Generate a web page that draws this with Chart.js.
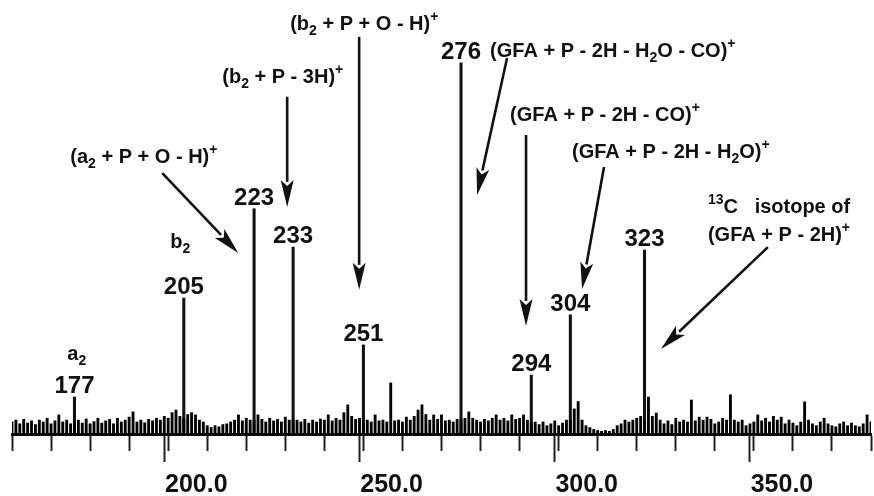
<!DOCTYPE html>
<html lang="en">
<head>
<meta charset="UTF-8">
<meta name="viewport" content="width=device-width, initial-scale=1.0">
<title>Spectrum</title>
<script src="https://cdn.jsdelivr.net/npm/chart.js"></script>
<style>
  html, body { margin: 0; padding: 0; background: #fff; }
  #wrap { width: 874px; height: 496px; }
</style>
</head>
<body>
<div id="wrap"><canvas id="chart"></canvas></div>
<script>
// labelled peaks: m/z and relative intensity (276 = 100)
const peakMz = [177, 205, 223, 233, 251, 276, 294, 304, 323];
const peakInt = [10.2, 36.8, 60.8, 50.5, 24.2, 100, 16.1, 32.3, 49.7];

// background trace, one value per m/z from noiseStart on
const noiseStart = 161;
const noiseInt = [
  3.5, 4.0, 3.0, 4.2, 3.2, 3.8, 2.8, 4.0, 3.5, 4.5,
  3.0, 3.8, 5.4, 3.5, 4.0, 3.0, 3.5, 4.0, 3.2, 4.3,
  3.0, 3.6, 4.5, 3.2, 3.8, 4.2, 3.0, 4.5, 3.5, 4.0,
  4.8, 6.2, 3.5, 4.0, 3.3, 4.2, 3.8, 4.5, 4.0, 5.0,
  4.5, 6.0, 6.7, 5.0, 4.5, 5.5, 6.0, 5.4, 4.0, 3.5,
  2.5, 2.0, 2.5, 2.2, 2.8, 3.0, 3.5, 4.0, 5.4, 3.8,
  4.5, 4.0, 4.0, 5.4, 4.2, 3.5, 4.5, 3.8, 4.2, 3.5,
  4.8, 4.0, 4.0, 4.0, 3.5, 4.2, 3.2, 4.0, 3.5, 4.3,
  4.0, 5.4, 3.8, 4.5, 4.0, 6.0, 8.1, 5.0, 4.2, 4.5,
  4.0, 4.0, 3.5, 5.4, 3.8, 4.0, 3.5, 14.0, 3.8, 4.0,
  3.5, 4.8, 4.0, 5.0, 6.7, 8.1, 5.5, 4.0, 5.4, 4.2,
  5.4, 3.8, 4.0, 3.5, 4.2, 4.0, 4.5, 6.2, 4.5, 4.0,
  3.5, 4.2, 3.8, 4.5, 5.4, 4.0, 4.5, 3.8, 5.4, 4.2,
  4.5, 5.4, 4.0, 3.5, 3.5, 2.8, 3.5, 2.5, 3.0, 3.8,
  2.5, 3.2, 4.0, 4.0, 7.0, 9.0, 4.0, 2.5, 2.0, 1.5,
  1.2, 1.0, 1.2, 1.0, 1.5, 2.5, 3.0, 4.0, 3.5, 4.0,
  4.5, 5.0, 4.0, 10.2, 5.0, 5.9, 4.0, 3.0, 3.8, 2.8,
  4.5, 3.5, 4.0, 3.5, 9.4, 3.8, 4.8, 4.0, 4.8, 4.2,
  3.0, 3.5, 4.5, 4.0, 10.8, 4.0, 3.5, 4.0, 2.5, 3.0,
  3.5, 5.4, 3.8, 4.5, 3.5, 5.0, 4.0, 4.8, 3.0, 4.0,
  3.2, 2.5, 3.5, 8.9, 4.0, 3.0, 2.5, 3.5, 4.5, 3.0,
  2.5, 2.2, 3.0, 3.5, 2.5, 3.2, 2.5, 2.2, 3.0, 5.4,
  3.5
];

// labelled axis ticks
const axisTicks = [200, 250, 300, 350];

// notes: text anchored at left/baseline, in m/z and intensity units
// _x = subscript, ^x = superscript
const notes = [
  { mz: 232.25, at: 108.9, text: '(b_2 + P + O - H)^+' },
  { mz: 214.85, at: 94.6, text: '(b_2 + P - 3H)^+' },
  { mz: 175.94, at: 73.1, text: '(a_2 + P + O - H)^+' },
  { mz: 283.44, at: 101.6, text: '(GFA + P - 2H - H_2O - CO)^+' },
  { mz: 288.56, at: 84.4, text: '(GFA + P - 2H - CO)^+' },
  { mz: 304.43, at: 74.5, text: '(GFA + P - 2H - H_2O)^+' },
  { mz: 339.24, at: 59.7, text: '^{13}C   isotope of' },
  { mz: 339.24, at: 52.2, text: '(GFA + P - 2H)^+' },
  { mz: 201.54, at: 50.3, text: 'b_2' },
  { mz: 175.17, at: 20.2, text: 'a_2' }
];

// arrows: from [mz, intensity] to [mz, intensity]
const arrows = [
  [199.49, 70.4, 218.94, 48.9],
  [231.48, 90.9, 231.48, 61.3],
  [249.91, 107.0, 249.91, 39.0],
  [287.79, 101.3, 280.11, 64.5],
  [292.65, 80.6, 292.65, 29.3],
  [312.62, 72.0, 306.99, 39.2],
  [354.59, 50.5, 327.21, 23.1]
];

const ink = '#111';
const family = '"Liberation Sans", Arial, sans-serif';

function richText(ctx, str, px, py, size) {
  const parts = [];
  let buf = '', i = 0;
  while (i < str.length) {
    const c = str[i];
    if (c === '_' || c === '^') {
      if (buf) { parts.push({ t: buf, k: 0 }); buf = ''; }
      let t;
      if (str[i + 1] === '{') {
        const j = str.indexOf('}', i);
        t = str.slice(i + 2, j);
        i = j + 1;
      } else {
        t = str[i + 1];
        i += 2;
      }
      parts.push({ t: t, k: c === '_' ? 1 : -1 });
    } else {
      buf += c;
      i++;
    }
  }
  if (buf) parts.push({ t: buf, k: 0 });

  let cx = px;
  parts.forEach(p => {
    const s = p.k ? Math.round(size * 0.7) : size;
    ctx.font = 'bold ' + s + 'px ' + family;
    const dy = p.k === 1 ? size * 0.27 : p.k === -1 ? -size * 0.45 : 0;
    ctx.fillText(p.t, cx, py + dy);
    cx += ctx.measureText(p.t).width;
  });
}

function arrow(ctx, x0, y0, x1, y1) {
  const ang = Math.atan2(y1 - y0, x1 - x0);
  const len = 27, half = 6.5;
  const bx = x1 - len * Math.cos(ang), by = y1 - len * Math.sin(ang);
  ctx.beginPath();
  ctx.moveTo(x0, y0);
  ctx.lineTo(bx + 2 * Math.cos(ang), by + 2 * Math.sin(ang));
  ctx.stroke();
  ctx.beginPath();
  ctx.moveTo(x1, y1);
  ctx.lineTo(bx + half * Math.sin(ang), by - half * Math.cos(ang));
  ctx.lineTo(bx + 6 * Math.cos(ang), by + 6 * Math.sin(ang));
  ctx.lineTo(bx - half * Math.sin(ang), by + half * Math.cos(ang));
  ctx.closePath();
  ctx.fill();
}

const notesPlugin = {
  id: 'notes',
  afterDatasetsDraw(chart) {
    const ctx = chart.ctx;
    const x = chart.scales.x, y = chart.scales.y;
    ctx.save();
    ctx.fillStyle = ink;
    ctx.strokeStyle = ink;
    ctx.textBaseline = 'alphabetic';

    // peak numbers
    ctx.textAlign = 'center';
    ctx.font = 'bold 24px ' + family;
    peakMz.forEach((m, i) => {
      ctx.fillText(String(m), x.getPixelForValue(m), y.getPixelForValue(peakInt[i]) - 4);
    });

    // annotation texts
    ctx.textAlign = 'left';
    notes.forEach(n => {
      richText(ctx, n.text, x.getPixelForValue(n.mz), y.getPixelForValue(n.at), 20);
    });

    // arrows
    ctx.lineWidth = 2.6;
    arrows.forEach(a => {
      arrow(ctx, x.getPixelForValue(a[0]), y.getPixelForValue(a[1]),
                 x.getPixelForValue(a[2]), y.getPixelForValue(a[3]));
    });
    ctx.restore();
  }
};

const xMin = 161, xMax = 381;

new Chart(document.getElementById('chart'), {
  type: 'bar',
  data: {
    datasets: [
      {
        label: 'background',
        data: noiseInt.map((v, i) => ({ x: noiseStart + i, y: v })),
        backgroundColor: '#000',
        barThickness: 2.2,
        grouped: false
      },
      {
        label: 'peaks',
        data: peakMz.map((m, i) => ({ x: m, y: peakInt[i] })),
        backgroundColor: ink,
        barThickness: 2.4,
        grouped: false
      }
    ]
  },
  options: {
    responsive: true,
    maintainAspectRatio: false,
    animation: false,
    layout: { padding: { left: 12, right: 3, top: 0, bottom: 0 } },
    plugins: {
      legend: { display: false },
      tooltip: { enabled: false }
    },
    scales: {
      x: {
        type: 'linear',
        min: xMin,
        max: xMax,
        offset: false,
        position: { y: 0 },
        ticks: { display: false, stepSize: 10, includeBounds: false },
        grid: { offset: false, drawOnChartArea: false, drawTicks: true, tickLength: 15, tickWidth: 2, tickColor: '#222' },
        border: { display: true, width: 3, color: ink }
      },
      xMajor: {
        type: 'linear',
        axis: 'x',
        min: xMin,
        max: xMax,
        offset: false,
        position: { y: 0 },
        afterBuildTicks: s => { s.ticks = axisTicks.map(v => ({ value: v })); },
        ticks: {
          color: ink,
          padding: 8,
          labelOffset: 32,
          maxRotation: 0,
          autoSkip: false,
          font: { family: family, size: 25, weight: 'bold' },
          callback: v => v.toFixed(1)
        },
        grid: { offset: false, drawOnChartArea: false, drawTicks: true, tickLength: 27, tickWidth: 2, tickColor: '#222' },
        border: { display: false }
      },
      y: {
        display: false,
        min: -16.4,
        max: 116.9
      }
    }
  },
  plugins: [notesPlugin]
});
</script>
</body>
</html>
